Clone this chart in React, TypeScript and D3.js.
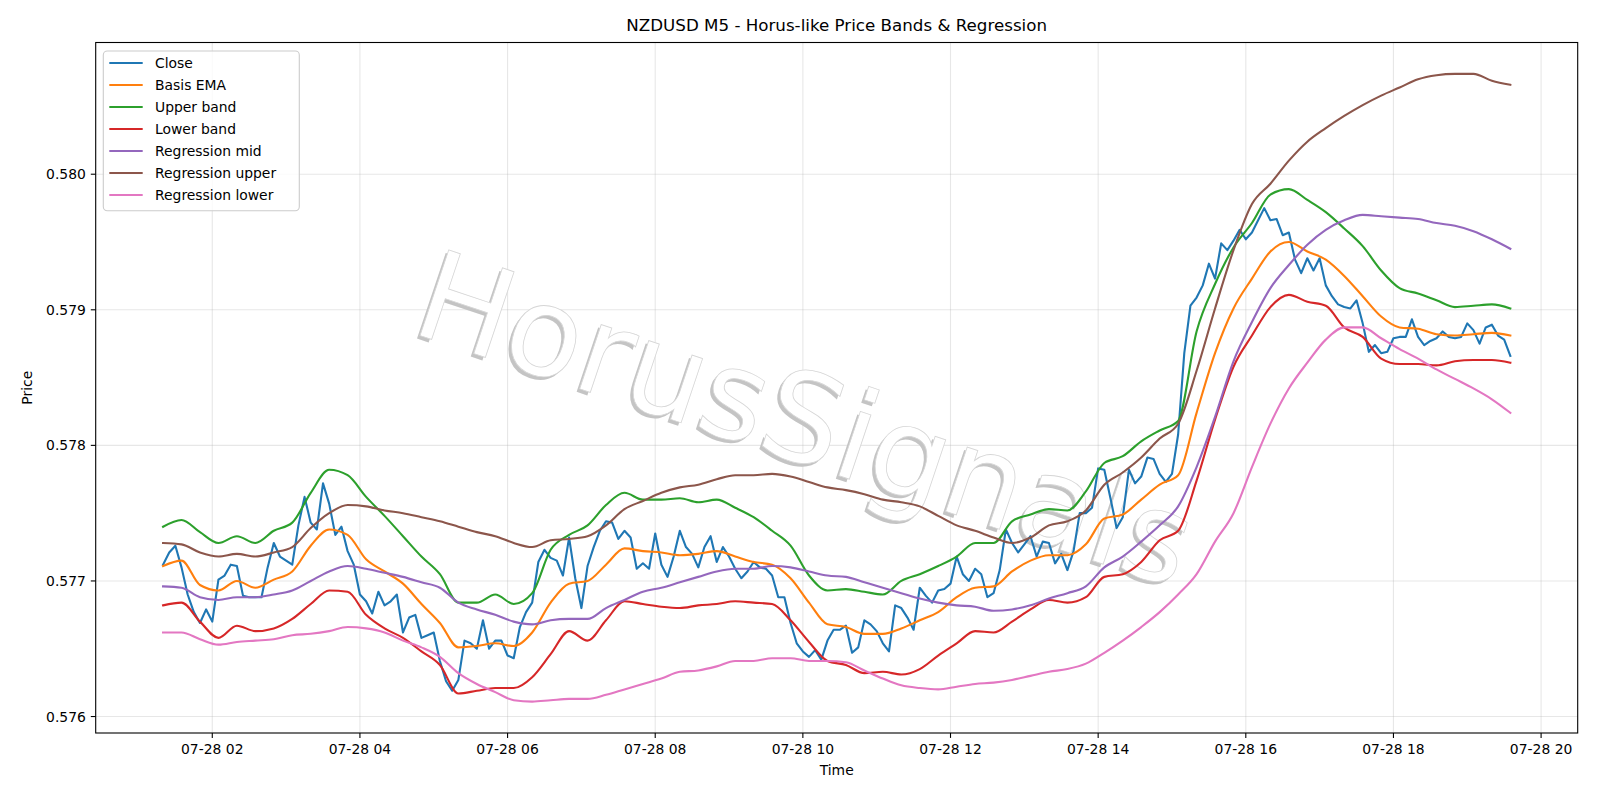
import React, { useEffect, useRef } from 'react';
import * as d3 from 'd3';

// 5 minute bars, first bar at 01:20
const startTime = new Date(2025, 6, 28, 1, 20);
const closeStepMin = 5;
const bandStepMin = 15;

const closeValues = [
    0.57712, 0.57721, 0.57726, 0.57710, 0.57690, 0.57677, 0.57669, 0.57679, 0.57670, 0.57701, 0.57704, 0.57712,
    0.57711, 0.57689, 0.57688, 0.57688, 0.57688, 0.57710, 0.57728, 0.57718, 0.57715, 0.57712, 0.57741, 0.57762,
    0.57743, 0.57738, 0.57772, 0.57757, 0.57734, 0.57740, 0.57722, 0.57712, 0.57690, 0.57685, 0.57676, 0.57692,
    0.57682, 0.57685, 0.57690, 0.57662, 0.57673, 0.57675, 0.57658, 0.57660, 0.57662, 0.57641, 0.57626, 0.57619,
    0.57627, 0.57656, 0.57654, 0.57650, 0.57671, 0.57650, 0.57656, 0.57656, 0.57645, 0.57643, 0.57666, 0.57677,
    0.57684, 0.57714, 0.57723, 0.57717, 0.57715, 0.57704, 0.57732, 0.57702, 0.57680, 0.57711, 0.57725, 0.57737,
    0.57744, 0.57743, 0.57731, 0.57737, 0.57732, 0.57709, 0.57713, 0.57709, 0.57735, 0.57712, 0.57703, 0.57718,
    0.57737, 0.57725, 0.57720, 0.57710, 0.57725, 0.57733, 0.57714, 0.57725, 0.57718, 0.57709, 0.57702, 0.57707,
    0.57714, 0.57710, 0.57709, 0.57704, 0.57688, 0.57688, 0.57669, 0.57654, 0.57648, 0.57644, 0.57649, 0.57642,
    0.57656, 0.57664, 0.57664, 0.57667, 0.57647, 0.57651, 0.57671, 0.57668, 0.57663, 0.57654, 0.57648, 0.57682,
    0.57680, 0.57673, 0.57664, 0.57695, 0.57689, 0.57684, 0.57693, 0.57694, 0.57698, 0.57718, 0.57705, 0.57700,
    0.57709, 0.57705, 0.57688, 0.57691, 0.57708, 0.57738, 0.57728, 0.57721, 0.57727, 0.57733, 0.57718, 0.57729,
    0.57728, 0.57713, 0.57720, 0.57708, 0.57722, 0.57750, 0.57750, 0.57754, 0.57783, 0.57782, 0.57761, 0.57739,
    0.57747, 0.57782, 0.57772, 0.57777, 0.57791, 0.57790, 0.57779, 0.57773, 0.57779, 0.57808, 0.57868, 0.57903,
    0.57909, 0.57918, 0.57934, 0.57923, 0.57949, 0.57944, 0.57951, 0.57959, 0.57952, 0.57957, 0.57966, 0.57975,
    0.57966, 0.57967, 0.57955, 0.57957, 0.57937, 0.57927, 0.57938, 0.57929, 0.57938, 0.57918, 0.57910, 0.57904,
    0.57902, 0.57901, 0.57907, 0.57890, 0.57869, 0.57874, 0.57868, 0.57869, 0.57879, 0.57880, 0.57880, 0.57893,
    0.57880, 0.57874, 0.57877, 0.57879, 0.57884, 0.57880, 0.57879, 0.57880, 0.57890, 0.57885, 0.57875, 0.57887,
    0.57889, 0.57881, 0.57878, 0.57866,
];

// band / regression lines, read every 15 minutes
const emaValues = [
    0.57711, 0.57715, 0.57697, 0.57693, 0.57700, 0.57695, 0.57701, 0.57707, 0.57726, 0.57738,
    0.57734, 0.57716, 0.57707, 0.57698, 0.57683, 0.57669, 0.57651, 0.57652, 0.57654, 0.57652,
    0.57662, 0.57684, 0.57698, 0.57700, 0.57712, 0.57724, 0.57722, 0.57721, 0.57719, 0.57720,
    0.57722, 0.57718, 0.57714, 0.57712, 0.57702, 0.57684, 0.57668, 0.57666, 0.57661, 0.57661,
    0.57665, 0.57671, 0.57677, 0.57688, 0.57695, 0.57696, 0.57707, 0.57715, 0.57719, 0.57719,
    0.57727, 0.57746, 0.57749, 0.57760, 0.57771, 0.57778, 0.57824, 0.57868, 0.57901, 0.57923,
    0.57943, 0.57950, 0.57943, 0.57937, 0.57925, 0.57910, 0.57895, 0.57887, 0.57886, 0.57882,
    0.57881, 0.57882, 0.57883, 0.57881,
];

const upperValues = [
    0.57740, 0.57745, 0.57736, 0.57728, 0.57733, 0.57728, 0.57737, 0.57743, 0.57765, 0.57782,
    0.57778, 0.57762, 0.57748, 0.57733, 0.57718, 0.57705, 0.57684, 0.57684, 0.57690, 0.57683,
    0.57691, 0.57723, 0.57734, 0.57741, 0.57756, 0.57765, 0.57760, 0.57760, 0.57761, 0.57758,
    0.57760, 0.57754, 0.57747, 0.57737, 0.57726, 0.57704, 0.57693, 0.57694, 0.57692, 0.57690,
    0.57700, 0.57705, 0.57711, 0.57718, 0.57728, 0.57728, 0.57744, 0.57749, 0.57753, 0.57752,
    0.57766, 0.57787, 0.57792, 0.57803, 0.57811, 0.57818, 0.57884, 0.57919, 0.57946, 0.57964,
    0.57985, 0.57989, 0.57981, 0.57972, 0.57960, 0.57947, 0.57929, 0.57916, 0.57912, 0.57907,
    0.57902, 0.57903, 0.57904, 0.57901,
];

const lowerValues = [
    0.57682, 0.57684, 0.57670, 0.57658, 0.57667, 0.57663, 0.57665, 0.57672, 0.57683, 0.57693,
    0.57692, 0.57675, 0.57665, 0.57658, 0.57648, 0.57638, 0.57617, 0.57619, 0.57621, 0.57621,
    0.57629, 0.57646, 0.57663, 0.57656, 0.57671, 0.57685, 0.57683, 0.57681, 0.57680, 0.57682,
    0.57683, 0.57685, 0.57684, 0.57683, 0.57671, 0.57655, 0.57641, 0.57638, 0.57632, 0.57633,
    0.57631, 0.57635, 0.57645, 0.57654, 0.57663, 0.57662, 0.57670, 0.57679, 0.57686, 0.57684,
    0.57688, 0.57703, 0.57705, 0.57714, 0.57730, 0.57737, 0.57774, 0.57819, 0.57858, 0.57881,
    0.57902, 0.57911, 0.57906, 0.57903, 0.57887, 0.57880, 0.57864, 0.57860, 0.57860, 0.57859,
    0.57862, 0.57863, 0.57863, 0.57861,
];

const regMidValues = [
    0.57696, 0.57695, 0.57688, 0.57686, 0.57688, 0.57688, 0.57690, 0.57693, 0.57700, 0.57707,
    0.57711, 0.57709, 0.57706, 0.57703, 0.57699, 0.57695, 0.57684, 0.57679, 0.57675, 0.57670,
    0.57668, 0.57671, 0.57672, 0.57672, 0.57680, 0.57686, 0.57692, 0.57695, 0.57699, 0.57703,
    0.57707, 0.57709, 0.57709, 0.57711, 0.57710, 0.57707, 0.57704, 0.57703, 0.57699, 0.57695,
    0.57691, 0.57687, 0.57684, 0.57682, 0.57681, 0.57678, 0.57679, 0.57682, 0.57687, 0.57691,
    0.57696, 0.57710, 0.57718, 0.57729, 0.57741, 0.57755, 0.57784, 0.57821, 0.57862, 0.57891,
    0.57916, 0.57933, 0.57948, 0.57959, 0.57966, 0.57970, 0.57969, 0.57968, 0.57967, 0.57964,
    0.57962, 0.57958, 0.57952, 0.57945,
];

const regUpperValues = [
    0.57728, 0.57727, 0.57721, 0.57718, 0.57720, 0.57718, 0.57721, 0.57725, 0.57739, 0.57750,
    0.57756, 0.57755, 0.57752, 0.57750, 0.57747, 0.57744, 0.57740, 0.57736, 0.57733, 0.57728,
    0.57725, 0.57730, 0.57731, 0.57733, 0.57741, 0.57753, 0.57759, 0.57765, 0.57769, 0.57771,
    0.57775, 0.57778, 0.57778, 0.57779, 0.57777, 0.57773, 0.57769, 0.57767, 0.57764, 0.57760,
    0.57758, 0.57755, 0.57748, 0.57741, 0.57737, 0.57732, 0.57728, 0.57732, 0.57741, 0.57744,
    0.57752, 0.57771, 0.57780, 0.57791, 0.57805, 0.57816, 0.57855, 0.57901, 0.57944, 0.57978,
    0.57993, 0.58010, 0.58024, 0.58034, 0.58043, 0.58051, 0.58058, 0.58064, 0.58070, 0.58073,
    0.58074, 0.58074, 0.58069, 0.58066,
];

const regLowerValues = [
    0.57662, 0.57662, 0.57657, 0.57653, 0.57655, 0.57656, 0.57657, 0.57660, 0.57661, 0.57663,
    0.57666, 0.57665, 0.57662, 0.57656, 0.57651, 0.57644, 0.57632, 0.57624, 0.57618, 0.57612,
    0.57611, 0.57612, 0.57613, 0.57613, 0.57616, 0.57620, 0.57624, 0.57628, 0.57633, 0.57634,
    0.57637, 0.57641, 0.57641, 0.57643, 0.57643, 0.57641, 0.57641, 0.57640, 0.57634, 0.57628,
    0.57623, 0.57621, 0.57620, 0.57622, 0.57624, 0.57625, 0.57627, 0.57630, 0.57633, 0.57635,
    0.57639, 0.57647, 0.57656, 0.57666, 0.57677, 0.57690, 0.57705, 0.57729, 0.57750, 0.57784,
    0.57816, 0.57842, 0.57861, 0.57878, 0.57887, 0.57887, 0.57879, 0.57871, 0.57864, 0.57856,
    0.57849, 0.57842, 0.57834, 0.57824,
];

const seriesList = [
    { name: "Close", values: closeValues, step: closeStepMin, color: "#1f77b4", smooth: false },
    { name: "Basis EMA", values: emaValues, step: bandStepMin, color: "#ff7f0e", smooth: true },
    { name: "Upper band", values: upperValues, step: bandStepMin, color: "#2ca02c", smooth: true },
    { name: "Lower band", values: lowerValues, step: bandStepMin, color: "#d62728", smooth: true },
    { name: "Regression mid", values: regMidValues, step: bandStepMin, color: "#9467bd", smooth: true },
    { name: "Regression upper", values: regUpperValues, step: bandStepMin, color: "#8c564b", smooth: true },
    { name: "Regression lower", values: regLowerValues, step: bandStepMin, color: "#e377c2", smooth: true },
];

const FONT = "DejaVu Sans, Liberation Sans, sans-serif";

export default function App() {
    const ref = useRef(null);

    useEffect(() => {
        const svg = d3.select(ref.current);
        svg.selectAll("*").remove();

        const width = 1600;
        const height = 800;
        const margin = { top: 42.5, left: 95.7, right: 22.3, bottom: 67 };
        const x0 = margin.left, x1 = width - margin.right;
        const y0 = height - margin.bottom, y1 = margin.top;

        const data = seriesList.map(s => ({
            ...s,
            points: s.values.map((v, i) => ({ t: d3.timeMinute.offset(startTime, i * s.step), v })),
        }));

        // matplotlib-like 5% padding
        const allPts = data.flatMap(d => d.points);
        const tExt = d3.extent(allPts, d => d.t.getTime());
        const vExt = d3.extent(allPts, d => d.v);
        const tPad = (tExt[1] - tExt[0]) * 0.05;
        const vPad = (vExt[1] - vExt[0]) * 0.05;

        const x = d3.scaleTime()
            .domain([new Date(tExt[0] - tPad), new Date(tExt[1] + tPad)])
            .range([x0, x1]);
        const y = d3.scaleLinear()
            .domain([vExt[0] - vPad, vExt[1] + vPad])
            .range([y0, y1]);

        svg.append("rect").attr("width", width).attr("height", height).attr("fill", "white");

        const xTicks = x.ticks(d3.timeHour.every(2));
        const yTicks = d3.range(0.576, 0.58051, 0.001);

        // grid
        const grid = svg.append("g");
        grid.selectAll(".gx").data(xTicks).enter().append("line")
            .attr("x1", d => x(d)).attr("x2", d => x(d))
            .attr("y1", y1).attr("y2", y0)
            .attr("stroke", "#b0b0b0").attr("stroke-opacity", 0.3).attr("stroke-width", 1.1);
        grid.selectAll(".gy").data(yTicks).enter().append("line")
            .attr("x1", x0).attr("x2", x1)
            .attr("y1", d => y(d)).attr("y2", d => y(d))
            .attr("stroke", "#b0b0b0").attr("stroke-opacity", 0.3).attr("stroke-width", 1.1);

        // watermark
        const wmText = "HorusSignals";
        svg.append("text")
            .attr("transform", "translate(789,463) rotate(18.5)")
            .attr("text-anchor", "middle")
            .attr("font-family", FONT)
            .attr("font-size", 124)
            .attr("fill", "#c4c4c4")
            .text(wmText);
        svg.append("text")
            .attr("transform", "translate(792,460) rotate(18.5)")
            .attr("text-anchor", "middle")
            .attr("font-family", FONT)
            .attr("font-size", 124)
            .attr("fill", "white")
            .attr("stroke", "#d6d6d6")
            .attr("stroke-width", 0.8)
            .text(wmText);

        // lines
        data.forEach(s => {
            const line = d3.line()
                .x(d => x(d.t))
                .y(d => y(d.v))
                .curve(s.smooth ? d3.curveMonotoneX : d3.curveLinear);
            svg.append("path")
                .datum(s.points)
                .attr("d", line)
                .attr("fill", "none")
                .attr("stroke", s.color)
                .attr("stroke-width", 2.1)
                .attr("stroke-linejoin", "round")
                .attr("stroke-linecap", "square");
        });

        // axes
        const fmt = d3.timeFormat("%m-%d %H");
        const xAxis = svg.append("g").attr("transform", `translate(0,${y0})`);
        xAxis.selectAll("line").data(xTicks).enter().append("line")
            .attr("x1", d => x(d)).attr("x2", d => x(d))
            .attr("y1", 0).attr("y2", 4.9)
            .attr("stroke", "black").attr("stroke-width", 1.1);
        xAxis.selectAll("text").data(xTicks).enter().append("text")
            .attr("x", d => x(d)).attr("y", 21)
            .attr("text-anchor", "middle")
            .attr("font-family", FONT).attr("font-size", 13.9)
            .text(d => fmt(d));

        const yAxis = svg.append("g");
        yAxis.selectAll("line").data(yTicks).enter().append("line")
            .attr("x1", x0 - 4.9).attr("x2", x0)
            .attr("y1", d => y(d)).attr("y2", d => y(d))
            .attr("stroke", "black").attr("stroke-width", 1.1);
        yAxis.selectAll("text").data(yTicks).enter().append("text")
            .attr("x", x0 - 9.8).attr("y", d => y(d))
            .attr("dy", "0.36em")
            .attr("text-anchor", "end")
            .attr("font-family", FONT).attr("font-size", 13.9)
            .text(d => d3.format(".3f")(d));

        svg.append("rect")
            .attr("x", x0).attr("y", y1)
            .attr("width", x1 - x0).attr("height", y0 - y1)
            .attr("fill", "none").attr("stroke", "black").attr("stroke-width", 1.1);

        // labels
        svg.append("text")
            .attr("x", (x0 + x1) / 2).attr("y", 30.5)
            .attr("text-anchor", "middle")
            .attr("font-family", FONT).attr("font-size", 16.7)
            .text("NZDUSD M5 - Horus-like Price Bands & Regression");
        svg.append("text")
            .attr("x", (x0 + x1) / 2).attr("y", 775)
            .attr("text-anchor", "middle")
            .attr("font-family", FONT).attr("font-size", 13.9)
            .text("Time");
        svg.append("text")
            .attr("transform", `translate(31.5,${(y0 + y1) / 2}) rotate(-90)`)
            .attr("text-anchor", "middle")
            .attr("font-family", FONT).attr("font-size", 13.9)
            .text("Price");

        // legend
        const lg = svg.append("g");
        lg.append("rect")
            .attr("x", 103.3).attr("y", 51)
            .attr("width", 196).attr("height", 159.7)
            .attr("rx", 4)
            .attr("fill", "white").attr("fill-opacity", 0.8)
            .attr("stroke", "#cccccc").attr("stroke-width", 1.1);
        seriesList.forEach((s, i) => {
            const cy = 63 + i * 22;
            lg.append("line")
                .attr("x1", 109.3).attr("x2", 142.7)
                .attr("y1", cy).attr("y2", cy)
                .attr("stroke", s.color).attr("stroke-width", 2.1);
            lg.append("text")
                .attr("x", 155).attr("y", cy)
                .attr("dy", "0.36em")
                .attr("font-family", FONT).attr("font-size", 13.9)
                .text(s.name);
        });
    }, []);

    return (
        <svg ref={ref} width={1600} height={800}
            style={{ position: "absolute", left: 0, top: 0, display: "block" }} />
    );
}
